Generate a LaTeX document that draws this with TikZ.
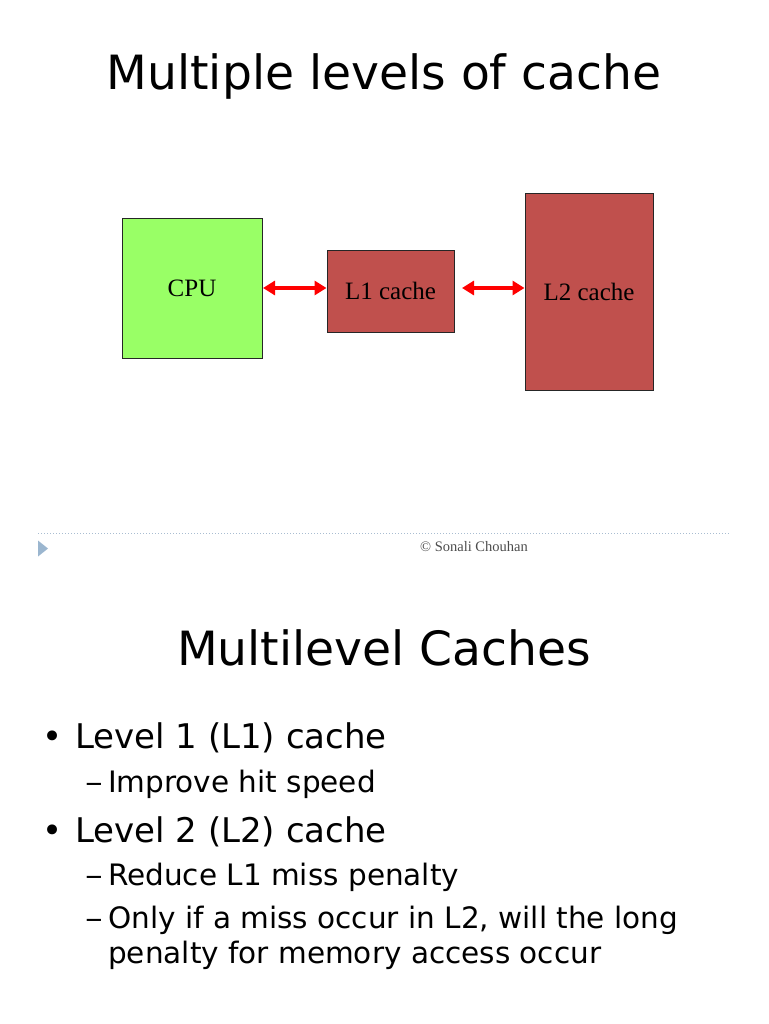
\documentclass[tikz,border=0pt]{standalone}
\usepackage{fontspec}
\setmainfont{DejaVu Sans}
\newfontfamily\serifface{Liberation Serif}
\usetikzlibrary{arrows.meta}
\definecolor{cpugreen}{HTML}{99FF66}
\definecolor{cachered}{HTML}{C0504D}
\definecolor{footblue}{HTML}{9BB6CF}
\definecolor{dotblue}{HTML}{A9BDD1}
\tikzset{
  box/.style={draw=black!85, line width=0.8pt, inner sep=0pt, font=\serifface\fontsize{25}{29}\selectfont},
  link/.style={draw=red, line width=3.2pt, {Triangle[length=12pt,width=14pt]}-{Triangle[length=12pt,width=14pt]}},
  titletext/.style={font=\fontsize{47.2}{54}\selectfont, anchor=base},
  lvlone/.style={font=\fontsize{34}{40}\selectfont, anchor=base west, inner sep=0pt},
  lvltwo/.style={font=\fontsize{29.5}{35}\selectfont, anchor=base west, inner sep=0pt},
  dashmark/.style={font=\fontsize{29.5}{35}\selectfont, anchor=base west, inner sep=0pt, xscale=1.2},
}
\begin{document}
\begin{tikzpicture}[x=1pt,y=-1pt]
\useasboundingbox (0,0) rectangle (768,1024);
% slide 1
\node[titletext] (t1) at (384,90) {Multiple levels of cache};
\node[box, fill=cpugreen, minimum width=140pt, minimum height=140pt] (cpu) at (192,288) {CPU};
\node[box, fill=cachered, minimum width=127pt, minimum height=82pt] (l1) at (390.5,291) {L1 cache};
\node[box, fill=cachered, minimum width=128pt, minimum height=197pt] (l2) at (589,291.5) {L2 cache};
\coordinate (a1) at (263,288);
\coordinate (a2) at (326.5,288);
\coordinate (b1) at (462,288);
\coordinate (b2) at (524.5,288);
\draw[link] (a1) -- (a2);
\draw[link] (b1) -- (b2);
% footer
\coordinate (d1) at (38,533);
\coordinate (d2) at (730,533);
\draw[dotblue, line width=1pt, dotted] (d1) -- (d2);
\fill[footblue] (38,540.5) -- (48,548.5) -- (38,556.5) -- cycle;
\node[font=\serifface\fontsize{14.5}{17}\selectfont, text=black!70] (foot) at (474,547) {© Sonali Chouhan};
% slide 2
\node[titletext] (t2) at (384,665) {Multilevel Caches};
\node[lvlone] (b1a) at (42,748) {•};
\node[lvlone] (b1t) at (75,748) {Level 1 (L1) cache};
\node[dashmark] (s1a) at (85,792) {–};
\node[lvltwo] (s1t) at (108,792) {Improve hit speed};
\node[lvlone] (b2a) at (42,842) {•};
\node[lvlone] (b2t) at (75,842) {Level 2 (L2) cache};
\node[dashmark] (s2a) at (85,885) {–};
\node[lvltwo] (s2t) at (108,885) {Reduce L1 miss penalty};
\node[dashmark] (s3a) at (85,928) {–};
\node[lvltwo] (s3t) at (108,928) {Only if a miss occur in L2, will the long};
\node[lvltwo] (s3u) at (108,963) {penalty for memory access occur};
\end{tikzpicture}
\end{document}
